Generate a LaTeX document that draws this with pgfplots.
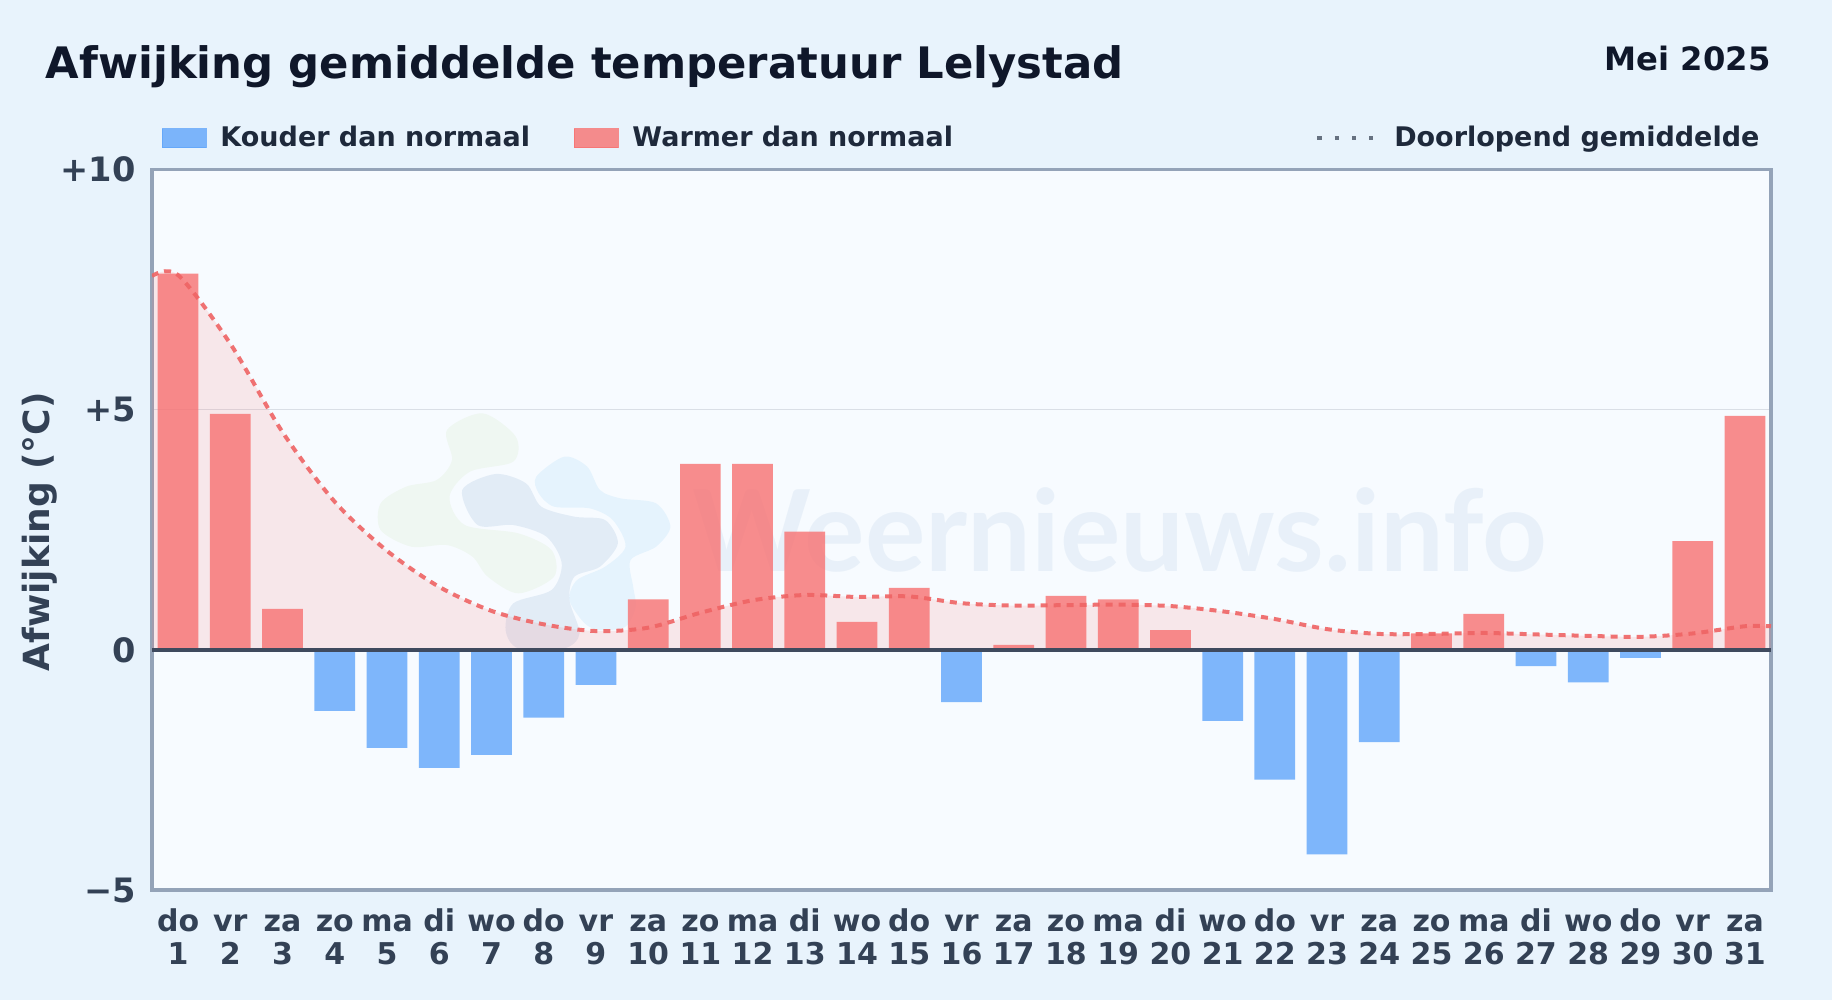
\documentclass[border=0pt]{standalone}
\usepackage{pgfplots}
\pgfplotsset{compat=1.18}
\usepackage{fontspec}
\setmainfont{DejaVu Sans}
\newfontfamily\wmfont{Lato}
\definecolor{pagebg}{HTML}{E8F3FC}
\definecolor{plotbg}{HTML}{F7FBFF}
\definecolor{frame}{HTML}{94A3B8}
\definecolor{ink}{HTML}{0F172A}
\definecolor{legtext}{HTML}{1E293B}
\definecolor{ticktext}{HTML}{334155}
\definecolor{cold}{HTML}{60A5FA}
\definecolor{warm}{HTML}{F87171}
\definecolor{meanline}{HTML}{EF6464}
\definecolor{zeroline}{HTML}{3F4A5E}
\definecolor{wmblue}{HTML}{2F6DB0}
\definecolor{wmgreen}{HTML}{8BC34A}
\definecolor{wmsky}{HTML}{38A8F0}
\definecolor{legdots}{HTML}{667180}
\begin{document}
\begin{tikzpicture}
\path[use as bounding box] (0,0) rectangle (916pt,500pt);
\fill[pagebg] (0,0) rectangle (916pt,500pt);
\fill[plotbg] (76pt,55pt) rectangle (885.5pt,415.3pt);
% watermark
\begin{scope}[shift={(175pt,300pt)},x=0.2551pt,y=-0.1667pt]
\fill[wmgreen,opacity=0.07] plot[smooth cycle] coordinates {(190,90)(260,40)(325,110)(320,185)(235,215)(195,290)(225,375)(330,400)(395,450)(400,530)(330,580)(270,530)(240,470)(190,435)(120,440)(60,390)(60,310)(110,260)(170,240)(200,180)};
\fill[wmblue,opacity=0.10] plot[smooth cycle] coordinates {(220,270)(285,222)(345,250)(375,320)(440,350)(500,360)(525,430)(490,500)(440,530)(430,600)(450,700)(420,745)(330,745)(305,690)(320,610)(395,570)(415,490)(385,410)(320,375)(250,375)};
\fill[wmsky,opacity=0.09] plot[smooth cycle] coordinates {(365,230)(420,170)(465,200)(490,270)(530,295)(600,310)(628,380)(600,440)(550,480)(555,560)(560,620)(540,680)(490,690)(460,670)(430,600)(445,540)(500,500)(540,440)(515,360)(470,325)(400,320)(370,280)};
\end{scope}
\node[anchor=base west,inner sep=0pt,text=wmblue,opacity=0.07,font=\wmfont\bfseries\fontsize{56.6}{56.6}\selectfont] at (346pt,214pt) {Weernieuws.info};
\begin{axis}[
at={(76pt,55pt)},
anchor=south west,
scale only axis,
width=809.5pt,
height=360.3pt,
xmin=0.5,xmax=31.5,
ymin=-5,ymax=10,
ytick={-5,0,5,10},
yticklabels={−5,0,+5,+10},
xtick={1,2,...,31},
xticklabels={do\\1,vr\\2,za\\3,zo\\4,ma\\5,di\\6,wo\\7,do\\8,vr\\9,za\\10,zo\\11,ma\\12,di\\13,wo\\14,do\\15,vr\\16,za\\17,zo\\18,ma\\19,di\\20,wo\\21,do\\22,vr\\23,za\\24,zo\\25,ma\\26,di\\27,wo\\28,do\\29,vr\\30,za\\31},
xticklabel style={align=center,anchor=base,yshift=-37.5pt,font=\fontsize{15}{16.5}\selectfont\bfseries,text=ticktext},
yticklabel style={xshift=-4.65pt,font=\fontsize{16.8}{16.8}\selectfont\bfseries,text=ticktext},
major tick length=0pt,
ymajorgrids,
y grid style={color=frame!35,line width=0.9pt},
axis line style={color=frame,line width=1.6pt},
ylabel={Afwijking (°C)},
every axis y label/.style={at={(axis description cs:-0.0694,0.497)},rotate=90,anchor=center,font=\fontsize{18}{18}\selectfont\bfseries,text=ticktext},
title={Afwijking gemiddelde temperatuur Lelystad},
title style={at={(axis description cs:-0.0658,1.109)},anchor=base west,inner sep=0pt,font=\fontsize{21.68}{21.68}\selectfont\bfseries,text=ink},
bar shift=0pt,
bar width=0.78,
legend columns=3,
legend cell align=left,
legend style={at={(axis description cs:0.0062,1.0435)},anchor=west,draw=none,fill=none,inner sep=0pt,outer sep=0pt,
  font=\fontsize{13.5}{13.5}\selectfont\bfseries,text=legtext,
  /tikz/column 1/.style={column sep=4.8pt},
  /tikz/column 2/.style={column sep=20pt},
  /tikz/column 3/.style={column sep=4.8pt},
  /tikz/column 4/.style={column sep=179pt},
  /tikz/column 5/.style={column sep=7.4pt}},
]
\addlegendimage{legend image code/.code={\fill[cold,opacity=0.8] (0pt,-4.75pt) rectangle (22pt,4.75pt);}}
\addlegendentry{Kouder dan normaal}
\addlegendimage{legend image code/.code={\fill[warm,opacity=0.8] (0pt,-4.75pt) rectangle (22pt,4.75pt);}}
\addlegendentry{Warmer dan normaal}
\addlegendimage{legend image code/.code={\draw[color=legdots,line width=2.2pt,dash pattern=on 2.2pt off 6.5pt] (0pt,0pt) -- (28pt,0pt);}}
\addlegendentry{Doorlopend gemiddelde}
% area under the running mean
\addplot[forget plot,draw=none,fill=warm,fill opacity=0.14,smooth,tension=0.5] coordinates {
(0.5,7.78)(1,7.8)(2,6.37)(3,4.53)(4,3.08)(5,2.06)(6,1.31)(7,0.81)(8,0.53)(9,0.39)(10,0.46)(11,0.77)(12,1.03)(13,1.14)(14,1.10)(15,1.11)(16,0.97)(17,0.92)(18,0.93)(19,0.94)(20,0.91)(21,0.80)(22,0.64)(23,0.43)(24,0.33)(25,0.33)(26,0.35)(27,0.32)(28,0.29)(29,0.27)(30,0.34)(31,0.49)(31.5,0.49)
} \closedcycle;
% warmer days
\addplot[forget plot,ybar,draw=none,fill=warm,fill opacity=0.8] coordinates {
(1,7.83)(2,4.91)(3,0.85)(10,1.05)(11,3.87)(12,3.87)(13,2.46)(14,0.58)(15,1.29)(17,0.10)(18,1.12)(19,1.05)(20,0.41)(25,0.34)(26,0.75)(30,2.26)(31,4.87)
};
% colder days
\addplot[forget plot,ybar,draw=none,fill=cold,fill opacity=0.8] coordinates {
(4,-1.27)(5,-2.04)(6,-2.46)(7,-2.19)(8,-1.41)(9,-0.73)(16,-1.09)(21,-1.48)(22,-2.70)(23,-4.26)(24,-1.92)(27,-0.34)(28,-0.68)(29,-0.17)
};
\addplot[forget plot,color=zeroline,line width=1.9pt] coordinates {(0.5,0)(31.5,0)};
% running mean
\addplot[forget plot,color=meanline,line width=2pt,opacity=0.9,smooth,tension=0.5,dash pattern=on 3.5pt off 3pt] coordinates {
(0.5,7.78)(1,7.8)(2,6.37)(3,4.53)(4,3.08)(5,2.06)(6,1.31)(7,0.81)(8,0.53)(9,0.39)(10,0.46)(11,0.77)(12,1.03)(13,1.14)(14,1.10)(15,1.11)(16,0.97)(17,0.92)(18,0.93)(19,0.94)(20,0.91)(21,0.80)(22,0.64)(23,0.43)(24,0.33)(25,0.33)(26,0.35)(27,0.32)(28,0.29)(29,0.27)(30,0.34)(31,0.49)(31.5,0.49)
};
\end{axis}
\node[anchor=base east,inner sep=0pt,text=ink,font=\fontsize{16.1}{16.1}\selectfont\bfseries] at (885.5pt,464.5pt) {Mei 2025};
\end{tikzpicture}
\end{document}
